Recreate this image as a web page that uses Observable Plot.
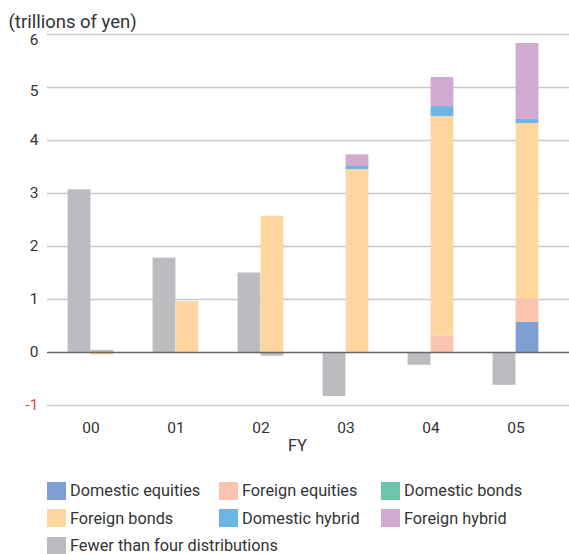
<!DOCTYPE html>
<html>
<head>
<meta charset="utf-8">
<script src="https://cdn.jsdelivr.net/npm/d3@7"></script>
<script src="https://cdn.jsdelivr.net/npm/@observablehq/plot@0.6"></script>
<style>
  html, body { margin: 0; padding: 0; background: #fff; }
  body { width: 569px; font-family: Roboto, "Liberation Sans", sans-serif; color: #333; }
  #chart svg { display: block; }
  .legend { display: grid; grid-template-columns: 172px 162px 170px; grid-auto-rows: 27.5px;
            margin-left: 47px; margin-top: 9px; font-size: 16.3px; color: #333; }
  .item { display: flex; align-items: center; white-space: nowrap; }
  .sw { width: 19px; height: 18px; margin-right: 4px; flex: none; }
</style>
</head>
<body>
<div id="chart"></div>
<div class="legend" id="legend"></div>
<script>
const years = ["00", "01", "02", "03", "04", "05"];
const seriesNames = ["Domestic equities", "Foreign equities", "Domestic bonds", "Foreign bonds", "Domestic hybrid", "Foreign hybrid", "Fewer than four distributions"];
const seriesColors = ["#7f9fd2", "#fbc4b0", "#6cc5ab", "#fed69e", "#6cb6e4", "#d2a9cf", "#bbbcc0"];

// Left column of each pair
const fewerLeft = [3.07, 1.78, 1.50, -0.83, -0.24, -0.62];
// Right column (stacked)
const domesticEquities = [0, 0, 0, 0, 0, 0.57];
const foreignEquities  = [0, 0, 0, 0, 0.31, 0.43];
const domesticBonds    = [0, 0, 0, 0, 0, 0];
const foreignBonds     = [-0.05, 0.96, 2.57, 3.45, 4.14, 3.32];
const domesticHybrid   = [0, 0, 0, 0.06, 0.19, 0.08];
const foreignHybrid    = [0, 0, 0, 0.22, 0.55, 1.43];
const fewerRight       = [0.04, 0, -0.07, 0, 0, 0];

const yTicks = [-1, 0, 1, 2, 3, 4, 5, 6];

const rightSeries = [domesticEquities, foreignEquities, domesticBonds, foreignBonds, domesticHybrid, foreignHybrid, fewerRight];
const rightRows = [];
rightSeries.forEach((arr, si) => arr.forEach((v, i) => rightRows.push({year: years[i], series: seriesNames[si], value: v})));
const leftRows = fewerLeft.map((v, i) => ({year: years[i], series: seriesNames[6], value: v}));

const W = 569, H = 468;
const bw = (558.2 - 47) / years.length;   // band width
const barW = 23;
const yAxisOpts = {tickSize: 0, tickPadding: 9, tickFormat: d => String(d), fill: "#333", fontSize: 15.5, label: null};

const plot = Plot.plot({
  width: W,
  height: H,
  marginTop: 34,
  marginLeft: 47,
  marginRight: 0,
  marginBottom: 63,
  style: {fontFamily: "Roboto, 'Liberation Sans', sans-serif", fontSize: "15px", color: "#333", background: "#fff"},
  x: {domain: years, range: [47, 558.2], padding: 0, axis: null},
  y: {domain: [-1, 6], axis: null},
  color: {domain: seriesNames, range: seriesColors},
  marks: [
    Plot.ruleY(yTicks.filter(d => d !== 0), {stroke: "#c8c8c8", strokeWidth: 1.3}),
    Plot.barY(leftRows, {x: "year", y: "value", fill: "series", insetLeft: bw / 2 - barW, insetRight: bw / 2}),
    Plot.barY(rightRows, Plot.stackY({x: "year", y: "value", z: "series", fill: "series", insetLeft: bw / 2, insetRight: bw / 2 - barW})),
    Plot.ruleY([0], {stroke: "#666", strokeWidth: 1.4}),
    Plot.axisY({...yAxisOpts, ticks: yTicks.filter(d => d >= 0 && d <= 4)}),
    Plot.axisY({...yAxisOpts, ticks: [5], dy: 4}),
    Plot.axisY({...yAxisOpts, ticks: [6], dy: 6}),
    Plot.axisY({...yAxisOpts, ticks: [-1], fill: "#e8413a"}),
    Plot.axisX({tickSize: 0, tickPadding: 16, fontSize: 15.5, fill: "#333", label: null}),
    Plot.text(["FY"], {frameAnchor: "bottom", dx: -11, dy: 45, fontSize: 16.5, fill: "#333"}),
    Plot.text(["(trillions of yen)"], {frameAnchor: "top-left", dx: -39, dy: -20, textAnchor: "start", fontSize: 18.5, fill: "#333"})
  ]
});
document.getElementById("chart").appendChild(plot);

const leg = document.getElementById("legend");
seriesNames.forEach((name, i) => {
  const it = document.createElement("div");
  it.className = "item";
  it.innerHTML = `<span class="sw" style="background:${seriesColors[i]}"></span><span>${name}</span>`;
  if (i === 6) it.style.gridColumn = "1 / span 3";
  leg.appendChild(it);
});
</script>
</body>
</html>
